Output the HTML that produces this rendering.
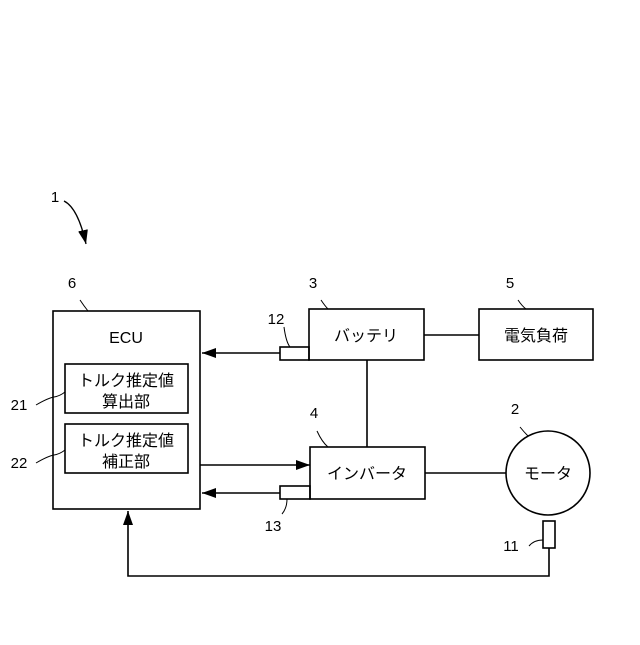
<!DOCTYPE html>
<html><head><meta charset="utf-8"><style>
body{margin:0;background:#fff;width:640px;height:640px;overflow:hidden}
svg text{font-family:"Liberation Sans","Noto Sans CJK JP",sans-serif;fill:#000}
</style></head><body>
<svg width="640" height="640" viewBox="0 0 640 640" xmlns="http://www.w3.org/2000/svg">
<defs><marker id="b" markerWidth="14" markerHeight="10" refX="14" refY="5" orient="auto" markerUnits="userSpaceOnUse"><path d="M0,0 L14,5 L0,10 z" fill="#000"/></marker></defs>
<g fill="none" stroke="#000" stroke-width="1.6">
<rect x="53" y="311" width="147" height="198"/>
<rect x="65" y="364" width="123" height="49"/>
<rect x="65" y="424" width="123" height="49"/>
<rect x="309" y="309" width="115" height="51"/>
<rect x="479" y="309" width="114" height="51"/>
<rect x="310" y="447" width="115" height="52"/>
<circle cx="548" cy="473" r="42"/>
<rect x="280" y="347" width="29" height="13"/>
<rect x="280" y="486" width="30" height="13"/>
<rect x="543" y="521" width="12" height="27"/>
<line x1="424" y1="335" x2="479" y2="335"/>
<line x1="367" y1="360" x2="367" y2="447"/>
<line x1="425" y1="473" x2="506" y2="473"/>
<line x1="280" y1="353" x2="202" y2="353" marker-end="url(#b)"/>
<line x1="200" y1="465" x2="310" y2="465" marker-end="url(#b)"/>
<line x1="280" y1="493" x2="202" y2="493" marker-end="url(#b)"/>
<polyline points="549,548 549,576 128,576 128,511" marker-end="url(#b)"/>
<path d="M64,201 Q78,208 86,244" marker-end="url(#b)" stroke-width="1.3"/>
<g stroke-width="1">
<path d="M80,300 Q84,306 88,311"/>
<path d="M321,300 Q325,306 328,309"/>
<path d="M518,300 Q522,306 526,309"/>
<path d="M284,327 Q286,342 290,347"/>
<path d="M317,431 Q322,442 328,447"/>
<path d="M520,427 Q524,432 528,436"/>
<path d="M36,405 Q48,398 54,397 Q60,396 65,392"/>
<path d="M36,463 Q48,456 54,455 Q60,454 65,450"/>
<path d="M287,499 Q287,508 282,514"/>
<path d="M529,546 Q534,540 543,540"/>
</g>
</g>
<g font-size="16">
<text x="126" y="343" text-anchor="middle">ECU</text>
<text x="126" y="386" text-anchor="middle">トルク推定値</text>
<text x="126" y="407" text-anchor="middle">算出部</text>
<text x="126" y="446" text-anchor="middle">トルク推定値</text>
<text x="126" y="467" text-anchor="middle">補正部</text>
<text x="366" y="341" text-anchor="middle">バッテリ</text>
<text x="536" y="341" text-anchor="middle">電気負荷</text>
<text x="367" y="479" text-anchor="middle">インバータ</text>
<text x="548" y="479" text-anchor="middle">モータ</text>
</g>
<g font-size="15" text-anchor="middle">
<text x="55" y="202">1</text>
<text x="72" y="288">6</text>
<text x="313" y="288">3</text>
<text x="510" y="288">5</text>
<text x="276" y="324">12</text>
<text x="515" y="414">2</text>
<text x="314" y="418">4</text>
<text x="19" y="410">21</text>
<text x="19" y="468">22</text>
<text x="273" y="531">13</text>
<text x="511" y="551">11</text>
</g>
</svg>
</body></html>
